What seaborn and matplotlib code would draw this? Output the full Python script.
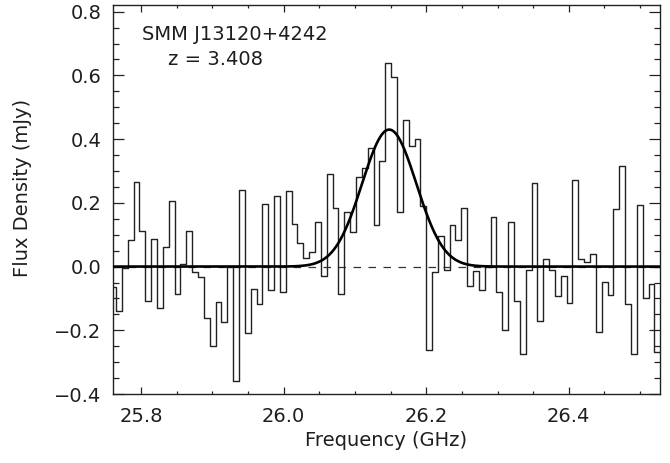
import numpy as np
import matplotlib
matplotlib.use("Agg")
import matplotlib.pyplot as plt
from matplotlib.ticker import MultipleLocator
import seaborn as sns
import pandas as pd

# ---- data ----
freq_ghz = [
    25.7606, 25.7688, 25.7770, 25.7852, 25.7934, 25.8017, 25.8099, 25.8181, 25.8263, 25.8345,
    25.8427, 25.8509, 25.8591, 25.8673, 25.8755, 25.8838, 25.8920, 25.9002, 25.9084, 25.9166,
    25.9248, 25.9330, 25.9412, 25.9494, 25.9576, 25.9659, 25.9741, 25.9823, 25.9905, 25.9987,
    26.0069, 26.0151, 26.0233, 26.0315, 26.0398, 26.0480, 26.0562, 26.0644, 26.0726, 26.0808,
    26.0890, 26.0972, 26.1054, 26.1137, 26.1219, 26.1301, 26.1383, 26.1465, 26.1547, 26.1629,
    26.1711, 26.1793, 26.1876, 26.1958, 26.2040, 26.2122, 26.2204, 26.2286, 26.2368, 26.2450,
    26.2533, 26.2615, 26.2697, 26.2779, 26.2861, 26.2943, 26.3025, 26.3107, 26.3189, 26.3272,
    26.3354, 26.3436, 26.3518, 26.3600, 26.3682, 26.3764, 26.3846, 26.3928, 26.4010, 26.4093,
    26.4175, 26.4257, 26.4339, 26.4421, 26.4503, 26.4585, 26.4667, 26.4749, 26.4831, 26.4914,
    26.4996, 26.5078, 26.5160, 26.5242,
]
flux_mjy = [
    -0.065, -0.138, -0.005, 0.083, 0.265, 0.111, -0.109, 0.085, -0.130, 0.061,
    0.206, -0.086, 0.009, 0.113, -0.018, -0.032, -0.161, -0.248, -0.110, -0.173,
    0.000, -0.359, 0.240, -0.210, -0.070, -0.119, 0.197, -0.072, 0.220, -0.081,
    0.236, 0.134, 0.074, 0.027, 0.045, 0.139, -0.031, 0.290, 0.183, -0.085,
    0.172, 0.110, 0.281, 0.309, 0.371, 0.131, 0.332, 0.638, 0.594, 0.170,
    0.460, 0.380, 0.400, 0.189, -0.261, -0.018, 0.097, -0.012, 0.132, 0.084,
    0.183, -0.062, -0.015, -0.075, -0.001, 0.156, -0.081, -0.198, 0.140, -0.107,
    -0.273, -0.011, 0.262, -0.170, 0.024, -0.011, -0.091, -0.031, -0.114, 0.272,
    0.024, 0.015, 0.040, -0.205, -0.047, -0.088, 0.180, 0.317, -0.117, -0.275,
    0.194, -0.100, -0.056, -0.268,
]
chan_width_ghz = 0.008211

# Gaussian fit parameters
fit_amp = 0.43
fit_center = 26.148
fit_sigma = 0.038

x_ticks = [25.8, 26.0, 26.2, 26.4]
y_ticks = [-0.4, -0.2, 0.0, 0.2, 0.4, 0.6, 0.8]
source_name = "SMM J13120+4242"
redshift_text = "z = 3.408"

# ---- build plotting tables ----
freq = np.array(freq_ghz)
flux = np.array(flux_mjy)
half = chan_width_ghz / 2.0
edges = np.append(freq - half, freq[-1] + half)
steps = pd.DataFrame({"f": edges, "s": np.append(flux, flux[-1])})

xlim = (25.760, 26.528)
xm = np.linspace(xlim[0], xlim[1], 800)
model = pd.DataFrame({"f": xm,
                      "s": fit_amp * np.exp(-0.5 * ((xm - fit_center) / fit_sigma) ** 2)})

sns.set_style("ticks")
plt.rcParams["font.family"] = ["DejaVu Sans"]
FS = 14
TXT = "#1e1e1e"

fig = plt.figure(figsize=(6.7, 4.63), dpi=100)
ax = fig.add_axes([0.1682, 0.149, 0.8169, 0.8402])

# baseline
ax.axhline(0.0, color="#333333", lw=0.9, ls=(0, (6, 6)), zorder=1)
# spectrum histogram
sns.lineplot(data=steps, x="f", y="s", ax=ax, drawstyle="steps-post",
             color="#222222", lw=1.0, estimator=None, sort=False, zorder=2)
# gaussian fit
sns.lineplot(data=model, x="f", y="s", ax=ax, color="black", lw=1.9,
             estimator=None, sort=False, zorder=3)

ax.set_xlim(*xlim)
ax.set_ylim(-0.4, 0.821)
ax.set_xticks(x_ticks)
ax.set_xticklabels([f"{t:.1f}" for t in x_ticks])
ax.set_yticks(y_ticks)
ax.set_yticklabels([f"{t:.1f}".replace("-", "\u2212") for t in y_ticks])
ax.xaxis.set_minor_locator(MultipleLocator(0.05))
ax.yaxis.set_minor_locator(MultipleLocator(0.05))

ax.tick_params(axis="both", which="both", direction="in", top=True, right=True,
               colors="#222222", labelcolor=TXT, width=0.9, labelsize=FS)
ax.tick_params(axis="x", which="major", length=4.8, pad=9)
ax.tick_params(axis="x", which="minor", length=2.0)
ax.tick_params(axis="y", which="major", length=8.0, pad=8)
ax.tick_params(axis="y", which="minor", length=4.0)

for sp in ax.spines.values():
    sp.set_linewidth(1.0)
    sp.set_color("#222222")

ax.set_xlabel("Frequency (GHz)", fontsize=FS, labelpad=4, color=TXT)
ax.set_ylabel("Flux Density (mJy)", fontsize=FS, color=TXT)
ax.yaxis.set_label_coords(-0.1475, 0.53)

ax.text(141.7 / 670, 1 - 40 / 463, source_name, transform=fig.transFigure,
        fontsize=FS, ha="left", va="baseline", color=TXT)
ax.text(168 / 670, 1 - 65 / 463, redshift_text, transform=fig.transFigure,
        fontsize=FS, ha="left", va="baseline", color=TXT)

fig.savefig("out.png", dpi=100)
